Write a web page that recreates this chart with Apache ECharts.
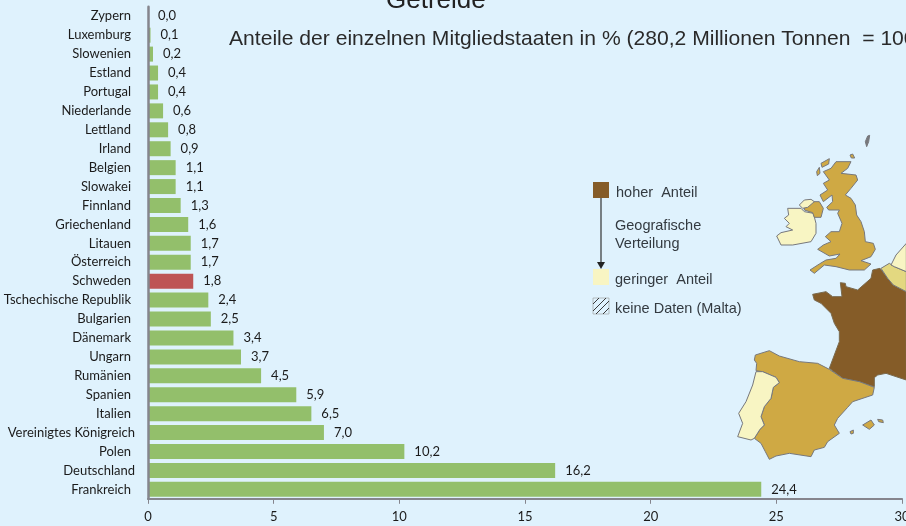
<!DOCTYPE html>
<html><head><meta charset="utf-8">
<style>html,body{margin:0;padding:0;background:#DFF2FD;overflow:hidden}#c{width:906px;height:526px}</style>
<script src="https://cdn.jsdelivr.net/npm/echarts@6/dist/echarts.min.js"></script>
</head><body><div id="c"></div>
<script>
const categories = ["Zypern","Luxemburg","Slowenien","Estland","Portugal","Niederlande","Lettland","Irland","Belgien","Slowakei","Finnland","Griechenland","Litauen","Österreich","Schweden","Tschechische Republik","Bulgarien","Dänemark","Ungarn","Rumänien","Spanien","Italien","Vereinigtes Königreich","Polen","Deutschland","Frankreich"];
const shares = [0.0,0.1,0.2,0.4,0.4,0.6,0.8,0.9,1.1,1.1,1.3,1.6,1.7,1.7,1.8,2.4,2.5,3.4,3.7,4.5,5.9,6.5,7.0,10.2,16.2,24.4];
const highlighted = "Schweden";
const wideLabels = ["Vereinigtes Königreich","Deutschland"];
const titleText = "Getreide";
const subtitleText = "Anteile der einzelnen Mitgliedstaaten in % (280,2 Millionen Tonnen  = 100)";

const GREEN="#93BF6B", RED="#BE5455", GRAY="#85858D", INK="#1b1b1b", SOFT="#333a40";
const BROWN="#855C28", GOLD="#CFA944", PALE="#F8F5C3", MID="#E3D880", EDGE="#77787c";

// map outlines, traced in 3x crop coordinates
const crop=(ox,oy,p)=>p.map(([x,y])=>[ox+x/3,oy+y/3]);
const land=(pts,fill,stroke)=>({type:"polygon",silent:true,shape:{points:pts},style:{fill,stroke:stroke||EDGE,lineWidth:1}});
const A=(p)=>crop(736,130,p), B=(p)=>crop(736,330,p), C=(p)=>crop(806,235,p);
const map=[
 land(C([[200,105],[222,100],[245,130],[262,150],[300,170],[301,435],[240,415],[215,420],[205,428],[205,455],[160,440],[110,430],[70,400],[85,360],[100,320],[100,290],[85,265],[75,235],[45,205],[25,195],[20,178],[60,170],[80,185],[108,185],[103,143],[118,145],[120,155],[155,165],[195,130]]),BROWN,"#7a6a4e"),
 land(C([[225,100],[250,85],[265,95],[301,110],[301,170],[262,150],[245,130]]),MID),
 land(C([[255,90],[270,60],[301,25],[301,110],[265,95]]),PALE),
 land(B([[58,75],[100,62],[130,78],[190,95],[245,100],[280,118],[320,145],[370,155],[415,172],[410,195],[350,215],[335,232],[305,265],[295,285],[310,310],[275,335],[265,352],[235,360],[225,380],[160,370],[120,378],[100,388],[88,365],[75,340],[55,325],[72,298],[85,285],[75,260],[85,230],[105,205],[112,172],[130,158],[120,142],[80,125],[60,122],[62,100],[55,90]]),GOLD),
 land(B([[60,125],[80,125],[120,142],[130,158],[112,172],[105,205],[85,230],[75,260],[85,285],[72,298],[55,325],[45,330],[5,320],[20,280],[8,250],[30,215],[50,165]]),PALE),
 land(B([[380,285],[405,270],[415,285],[400,298]]),GOLD),
 land(B([[425,268],[440,270],[442,278],[428,275]]),GOLD),
 land(B([[342,305],[352,300],[352,310],[345,312]]),GOLD),
 land(A([[300,95],[345,95],[335,115],[315,130],[360,135],[365,150],[345,175],[328,195],[345,205],[358,225],[362,255],[375,275],[385,305],[388,335],[412,340],[418,358],[405,380],[375,392],[405,402],[385,420],[340,420],[300,410],[265,405],[235,430],[222,420],[250,402],[270,390],[300,385],[312,372],[280,378],[245,358],[262,345],[285,335],[268,320],[285,305],[310,305],[318,280],[305,250],[310,240],[278,240],[272,232],[290,215],[288,195],[262,215],[252,195],[275,180],[262,160],[280,150],[262,125],[285,115]]),GOLD),
 land(A([[155,235],[195,235],[205,245],[232,250],[240,280],[240,310],[225,335],[170,345],[135,345],[122,318],[135,308],[170,300],[150,290],[160,280],[145,265],[158,255]]),PALE),
 land(A([[205,232],[225,215],[250,215],[262,235],[255,262],[235,262],[230,248],[205,240]]),GOLD),
 land(A([[190,225],[205,210],[225,208],[235,215],[215,232],[200,235]]),PALE),
 land(A([[255,100],[280,86],[278,102],[258,112]]),GOLD),
 land(A([[242,125],[250,112],[252,130],[244,137]]),GOLD),
 land(A([[342,75],[350,72],[356,84],[346,84]]),GOLD),
 land(A([[388,35],[395,18],[401,16],[398,35],[392,50]]),EDGE),
];

// legend drawn beside the map
const txt=(x,y,t)=>({type:"text",silent:true,x,y,style:{text:t,font:"14.5px 'Liberation Sans'",fill:SOFT,verticalAlign:"middle"}});
const hatch=[];
for(const [x1,y1,x2,y2] of [[593,304,599,298],[593,311,606,298],[596,314,609,301],[603,314,609,308]])
  hatch.push({type:"line",silent:true,shape:{x1,y1,x2,y2},style:{stroke:"#3a3a3a",lineWidth:1}});
const legend=[
 {type:"rect",silent:true,shape:{x:593,y:182,width:16,height:16},style:{fill:BROWN}},
 {type:"rect",silent:true,shape:{x:593,y:269,width:16,height:16},style:{fill:PALE}},
 {type:"line",silent:true,shape:{x1:601,y1:198,x2:601,y2:262},style:{stroke:"#333",lineWidth:1.2}},
 {type:"polygon",silent:true,shape:{points:[[597,262],[605,262],[601,269]]},style:{fill:"#222"}},
 {type:"rect",silent:true,shape:{x:593,y:298,width:16,height:16},style:{fill:"transparent",stroke:"#999",lineWidth:0.6}},
 ...hatch,
 txt(616,193,"hoher  Anteil"),txt(615,226,"Geografische"),txt(615,244,"Verteilung"),
 txt(615,280,"geringer  Anteil"),txt(615,309,"keine Daten (Malta)")
];

const chart=echarts.init(document.getElementById("c"),null,{renderer:"canvas"});
chart.setOption({
 animation:false,
 backgroundColor:"#DFF2FD",
 title:[
  {text:titleText,left:386,top:-12,padding:0,textStyle:{fontFamily:"Liberation Sans",fontSize:26,fontWeight:"normal",color:"#222"}},
  {text:subtitleText,left:229,top:29,padding:0,textStyle:{fontFamily:"Liberation Sans",fontSize:21.1,fontWeight:"normal",color:"#2a2a2a"}}
 ],
 grid:{left:148,right:4,top:6.8,bottom:27.2,containLabel:false,outerBoundsMode:"none"},
 xAxis:{type:"value",min:0,max:30,interval:5,z:5,
  axisLine:{show:true,lineStyle:{color:GRAY,width:2}},
  axisTick:{show:true,length:5,lineStyle:{color:GRAY,width:1}},
  splitLine:{show:false},
  axisLabel:{margin:12,fontFamily:"Lato",fontSize:13,color:INK}},
 yAxis:{type:"category",inverse:true,z:5,
  data:categories.map(c=>wideLabels.includes(c)?{value:c,textStyle:{padding:[0,-4,2,0]}}:c),
  axisLine:{show:true,lineStyle:{color:GRAY,width:2.5}},
  axisTick:{show:false},
  axisLabel:{margin:17,interval:0,fontFamily:"Lato",fontSize:13,color:INK,padding:[0,0,2,0]}},
 series:[{type:"bar",barWidth:15,z:2,
  data:shares.map((v,i)=>({value:v,itemStyle:{color:categories[i]===highlighted?RED:GREEN}})),
  label:{show:true,position:"right",distance:10,fontFamily:"Lato",fontSize:13,color:INK,
   formatter:p=>p.value.toFixed(1).replace(".",",")}}],
 graphic:{elements:[...map,...legend]}
});
</script></body></html>
